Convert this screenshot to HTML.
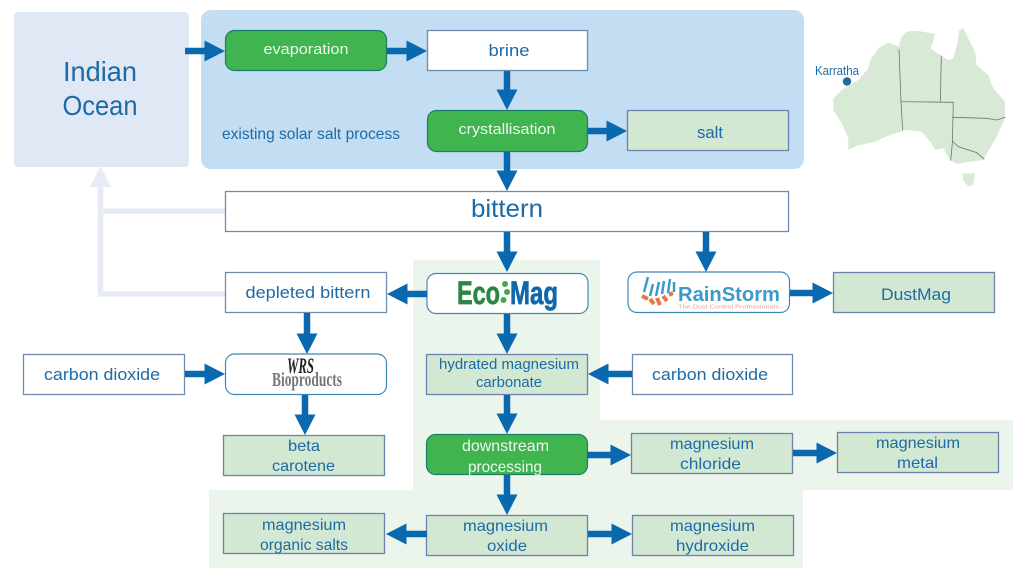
<!DOCTYPE html>
<html><head><meta charset="utf-8"><style>
html,body{margin:0;padding:0;background:#fff;width:1024px;height:576px;overflow:hidden}
svg{display:block}
text{font-family:"Liberation Sans",sans-serif;fill:#1c6ba6;text-anchor:middle}
.w{fill:#eef7ee}
.b{fill:#fff;stroke:#6d8cb0;stroke-width:1.3}
.r{fill:#fff;stroke:#3f88b5;stroke-width:1.2}
.l{fill:#d3e8d2;stroke:#6d83ad;stroke-width:1.3}
.g{fill:#3fb44f;stroke:#1b7d6a;stroke-width:1.2}
</style></head><body>
<svg width="1024" height="576" viewBox="0 0 1024 576" xmlns="http://www.w3.org/2000/svg">
<defs>
<marker id="a" markerUnits="userSpaceOnUse" markerWidth="21" markerHeight="21" refX="0.500" refY="10.500" orient="auto"><path d="M0 0L20.500 10.500L0 21Z" fill="#0a69ae"/></marker>
</defs>
<rect x="14" y="12" width="175" height="155" rx="4" fill="#e0e8f5"/>
<rect x="201" y="10" width="603" height="159" rx="10" fill="#c3ddf3"/>
<path d="M413 260H600V420H1013V490H803V568H209V490H413Z" fill="#ebf5eb"/>

<g fill="none" stroke="#e6ebf6" stroke-width="5.500">
<path d="M225 211H101M225 294H100.500V184"/>
</g>
<path d="M100.500 166L111 187H90Z" fill="#e6ebf6"/>

<g transform="translate(800 10) scale(.3333)">
<path d="M100 265L125 240L175 210L205 175L212 148L235 115L265 98L297 110L305 80L320 65L350 62L405 72L400 95L392 115L420 135L445 150L460 145L472 100L478 60L490 55L505 85L525 125L530 165L565 195L580 235L615 275L615 325L595 370L570 415L550 450L510 455L470 462L450 450L430 415L405 420L395 400L365 365L320 360L270 375L225 395L170 408L145 420L145 385L125 340L100 300Z" fill="#d8e9d6"/>
<path d="M487 490L525 490L520 525L505 530L490 510Z" fill="#d8e9d6"/>
<path d="M297 118L303 275L308 360M303 275L460 277L457 400L452 452M424 137L421 275M457 322L560 325L590 330L615 322M457 393L475 410L530 428L553 448" fill="none" stroke="#66786a" stroke-width="2.400"/>
</g>
<circle cx="847" cy="81.500" r="4.200" fill="#1c6ba6"/>
<text x="837" y="75" font-size="12.500" textLength="44" lengthAdjust="spacingAndGlyphs">Karratha</text>

<rect class="g" x="225.500" y="30.500" width="161" height="40" rx="9"/>
<rect class="b" x="427.500" y="30.500" width="160" height="40"/>
<rect class="g" x="427.500" y="110.500" width="160" height="41" rx="9"/>
<rect class="l" x="627.500" y="110.500" width="161" height="40"/>
<rect class="b" x="225.500" y="191.500" width="563" height="40"/>
<rect class="b" x="225.500" y="272.500" width="161" height="40"/>
<rect class="r" x="427" y="273.500" width="161" height="40" rx="9"/>
<rect class="r" x="628" y="272" width="161.500" height="40.500" rx="9"/>
<rect class="l" x="833.500" y="272.500" width="161" height="40"/>
<rect class="b" x="23.500" y="354.500" width="161" height="40"/>
<rect class="r" x="225.500" y="354" width="161" height="40.500" rx="9"/>
<rect class="l" x="426.500" y="354.500" width="161" height="40"/>
<rect class="b" x="632.500" y="354.500" width="160" height="40"/>
<rect class="l" x="223.500" y="435.500" width="161" height="40"/>
<rect class="g" x="426.500" y="434.500" width="161" height="40" rx="9"/>
<rect class="l" x="631.500" y="433.500" width="161" height="40"/>
<rect class="l" x="837.500" y="432.500" width="161" height="40"/>
<rect class="l" x="223.500" y="513.500" width="161" height="40"/>
<rect class="l" x="426.500" y="515.500" width="161" height="40"/>
<rect class="l" x="632.500" y="515.500" width="161" height="40"/>

<g stroke="#0a69ae" stroke-width="6.500" fill="none" marker-end="url(#a)">
<path d="M185 51H205"/>
<path d="M387 51H407"/>
<path d="M507 71V90"/>
<path d="M588 131H607"/>
<path d="M507 152V171"/>
<path d="M507 232V252"/>
<path d="M706 232V252"/>
<path d="M790 293H813"/>
<path d="M427 294H407"/>
<path d="M307 313V334"/>
<path d="M507 314V334"/>
<path d="M632 374H608"/>
<path d="M185 374H205"/>
<path d="M305 395V415"/>
<path d="M507 395V414"/>
<path d="M587 455H611"/>
<path d="M793 453H817"/>
<path d="M507 475V495"/>
<path d="M427 534H406"/>
<path d="M588 534H612"/>
</g>

<text x="100" y="81" font-size="28" textLength="74" lengthAdjust="spacingAndGlyphs">Indian</text>
<text x="100" y="115" font-size="28" textLength="75" lengthAdjust="spacingAndGlyphs">Ocean</text>
<text x="311" y="139" font-size="16" textLength="178" lengthAdjust="spacingAndGlyphs">existing solar salt process</text>
<text x="306" y="54" font-size="15" textLength="85" lengthAdjust="spacingAndGlyphs" class="w">evaporation</text>
<text x="509" y="56" font-size="17" textLength="41" lengthAdjust="spacingAndGlyphs">brine</text>
<text x="507" y="134" font-size="15" textLength="97" lengthAdjust="spacingAndGlyphs" class="w">crystallisation</text>
<text x="710" y="138" font-size="17" textLength="26" lengthAdjust="spacingAndGlyphs">salt</text>
<text x="507" y="217" font-size="25" textLength="72" lengthAdjust="spacingAndGlyphs">bittern</text>
<text x="308" y="298" font-size="17" textLength="125" lengthAdjust="spacingAndGlyphs">depleted bittern</text>
<text x="916" y="300" font-size="17" textLength="70" lengthAdjust="spacingAndGlyphs">DustMag</text>
<text x="102" y="380" font-size="17" textLength="116" lengthAdjust="spacingAndGlyphs">carbon dioxide</text>
<text x="710" y="380" font-size="17" textLength="116" lengthAdjust="spacingAndGlyphs">carbon dioxide</text>
<text x="509" y="369" font-size="15" textLength="140" lengthAdjust="spacingAndGlyphs">hydrated magnesium</text>
<text x="509" y="387" font-size="15" textLength="66" lengthAdjust="spacingAndGlyphs">carbonate</text>
<text x="304" y="451" font-size="16" textLength="32" lengthAdjust="spacingAndGlyphs">beta</text>
<text x="303.500" y="471" font-size="16" textLength="63" lengthAdjust="spacingAndGlyphs">carotene</text>
<text x="505.500" y="451" font-size="16" textLength="87" lengthAdjust="spacingAndGlyphs" class="w">downstream</text>
<text x="505" y="472" font-size="16" textLength="74" lengthAdjust="spacingAndGlyphs" class="w">processing</text>
<text x="712" y="449" font-size="16" textLength="84" lengthAdjust="spacingAndGlyphs">magnesium</text>
<text x="710.500" y="469" font-size="16" textLength="61" lengthAdjust="spacingAndGlyphs">chloride</text>
<text x="918" y="448" font-size="16" textLength="84" lengthAdjust="spacingAndGlyphs">magnesium</text>
<text x="917.500" y="468" font-size="16" textLength="41" lengthAdjust="spacingAndGlyphs">metal</text>
<text x="304" y="530" font-size="16" textLength="84" lengthAdjust="spacingAndGlyphs">magnesium</text>
<text x="304" y="550" font-size="16" textLength="88" lengthAdjust="spacingAndGlyphs">organic salts</text>
<text x="505.500" y="531" font-size="16" textLength="85" lengthAdjust="spacingAndGlyphs">magnesium</text>
<text x="507" y="551" font-size="16" textLength="40" lengthAdjust="spacingAndGlyphs">oxide</text>
<text x="712.500" y="531" font-size="16" textLength="85" lengthAdjust="spacingAndGlyphs">magnesium</text>
<text x="712.500" y="551" font-size="16" textLength="73" lengthAdjust="spacingAndGlyphs">hydroxide</text>

<!-- EcoMag logo -->
<text x="478.500" y="304" font-size="32" font-weight="700" textLength="43" lengthAdjust="spacingAndGlyphs" style="fill:#2a8547;stroke:#2a8547;stroke-width:.7">Eco</text>
<text x="534" y="304" font-size="32" font-weight="700" textLength="48" lengthAdjust="spacingAndGlyphs" style="fill:#0f68ae;stroke:#0f68ae;stroke-width:.7">Mag</text>
<g fill="#3fa84f"><circle cx="505" cy="284" r="3"/><circle cx="507" cy="292" r="3"/><circle cx="503.500" cy="300" r="3"/></g>

<!-- RainStorm logo -->
<g stroke="#3a9bc9" stroke-width="2.500" fill="none">
<path d="M644 292L648 277M650 296L653 284M656 296L659 282M662 294L664 281M668 293L670 279M674 292L674 282"/>
</g>
<g stroke="#e07a45" stroke-width="4" fill="none">
<path d="M642 296L648 299M650 299L654 304M657 298L660 305M663 296L667 301M669 295L673 293"/>
</g>
<text x="729" y="301" font-size="20" font-weight="700" textLength="102" lengthAdjust="spacingAndGlyphs" style="fill:#3a9bc9">RainStorm</text>
<text x="728.500" y="308.500" font-size="5.500" textLength="101" lengthAdjust="spacingAndGlyphs" style="fill:#e9a488">The Dust Control Professionals</text>

<!-- WRS logo -->
<text x="300.500" y="373" font-size="22" font-weight="700" font-style="italic" textLength="27" lengthAdjust="spacingAndGlyphs" style="font-family:'Liberation Serif',serif;fill:#222">WRS</text>
<text x="307" y="386" font-size="20" font-weight="700" textLength="70" lengthAdjust="spacingAndGlyphs" style="font-family:'Liberation Serif',serif;fill:#777">Bioproducts</text>
</svg>
</body></html>
